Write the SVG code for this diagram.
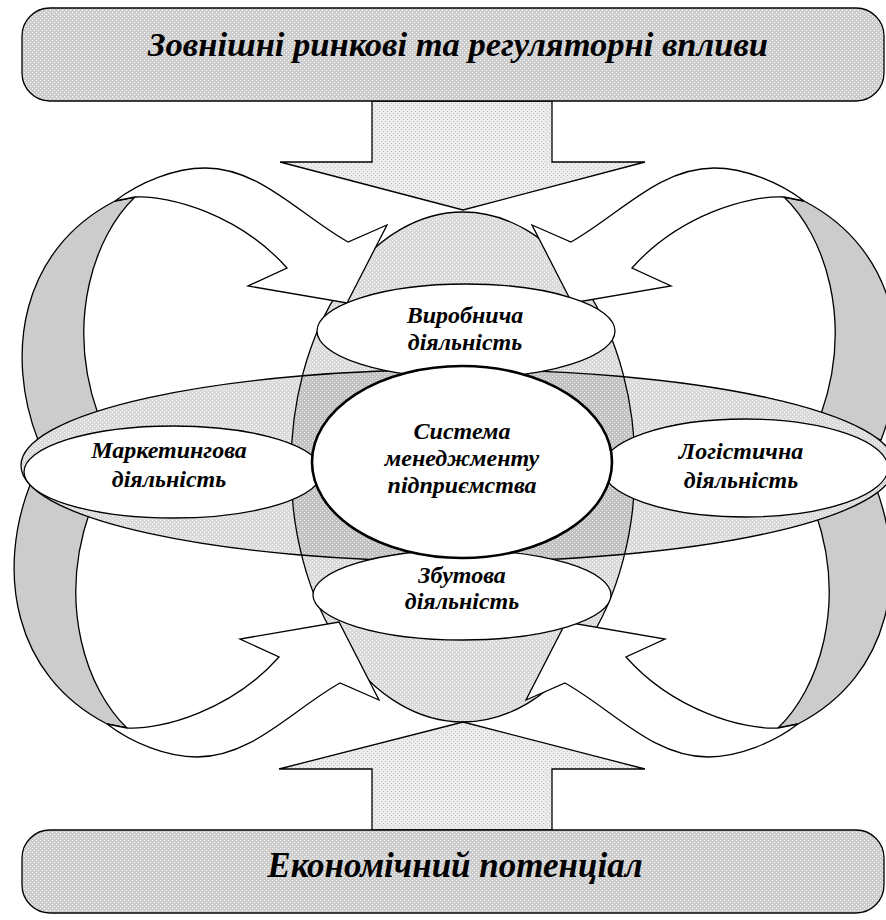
<svg xmlns="http://www.w3.org/2000/svg" width="886" height="920" viewBox="0 0 886 920">
  <defs>
    <!-- dotted fills -->
    <pattern id="pBanner" width="4" height="4" patternUnits="userSpaceOnUse">
      <rect width="4" height="4" fill="#cdcdcd"/>
      <rect x="0" y="0" width="1" height="1" fill="#ffffff"/>
      <rect x="2" y="2" width="1" height="1" fill="#ffffff"/>
    </pattern>
    <pattern id="pArrow" width="4" height="4" patternUnits="userSpaceOnUse">
      <rect width="4" height="4" fill="#ececec"/>
      <rect x="1" y="1" width="1" height="1" fill="#c4c4c4"/>
      <rect x="3" y="3" width="1" height="1" fill="#c4c4c4"/>
    </pattern>
    <pattern id="pLight" width="4" height="4" patternUnits="userSpaceOnUse">
      <rect width="4" height="4" fill="#dadada"/>
      <rect x="0" y="0" width="1" height="1" fill="#ffffff"/>
      <rect x="2" y="2" width="1" height="1" fill="#ffffff"/>
    </pattern>
    <pattern id="pDark" width="4" height="4" patternUnits="userSpaceOnUse">
      <rect width="4" height="4" fill="#c2c2c2"/>
      <rect x="0" y="0" width="1" height="1" fill="#f0f0f0"/>
      <rect x="2" y="2" width="1" height="1" fill="#f0f0f0"/>
    </pattern>
    <clipPath id="clipV"><ellipse cx="463" cy="467" rx="172" ry="255"/></clipPath>
    <clipPath id="clipH"><ellipse cx="458" cy="465.5" rx="437" ry="96"/></clipPath>
    <!-- one bent arrow (upper-left one); the others are mirrored copies -->
    <g id="bentArrow">
      <path class="side" d="M38,440 C5,355 20,250 115,201 L135,197 C95,235 65,320 98,414 Z"/>
      <path class="band" d="M115,201 C140,182 175,168 205,168 C260,168 300,215 348,242 L387,225 L347,303 L248,286 L287,268 C240,215 170,195 135,197 Z"/>
    </g>
  </defs>
  <style>
    .line { stroke: #000; stroke-width: 1.3; stroke-linejoin: miter; }
    .side { fill: #cccccc; stroke: #000; stroke-width: 1.3; }
    .band { fill: #ffffff; stroke: #000; stroke-width: 1.3; stroke-linejoin: miter; }
    .oval { fill: #ffffff; stroke: #000; stroke-width: 1.3; }
    text { font-family: 'Liberation Serif', 'DejaVu Serif', serif; font-style: italic; font-weight: 700; fill: #000; text-anchor: middle; }
    .small { font-size: 24px; }
  </style>

  <rect width="886" height="920" fill="#ffffff"/>

  <!-- large vertical oval behind the activities -->
  <g id="sphere">
    <ellipse cx="463" cy="467" rx="172" ry="255" fill="url(#pLight)" class="line"/>
  </g>

  <!-- arrows -->
  <g id="connectors">
    <path d="M372,101 L552,101 L552,162 L645,162 L463,210 L280,162 L372,162 Z" fill="url(#pArrow)" class="line"/>
    <path d="M372,830 L552,830 L552,769 L645,769 L463,722 L279,769 L372,769 Z" fill="url(#pArrow)" class="line"/>
    <use href="#bentArrow"/>
    <use href="#bentArrow" transform="translate(919,0) scale(-1,1)"/>
    <use href="#bentArrow" transform="translate(-8,925) scale(1,-1)"/>
    <use href="#bentArrow" transform="translate(913,925) scale(-1,-1)"/>
  </g>

  <!-- horizontal oval and its overlap with the vertical one -->
  <g id="ring">
    <ellipse cx="458" cy="465.5" rx="437" ry="96" fill="url(#pLight)"/>
    <ellipse cx="458" cy="465.5" rx="437" ry="96" fill="url(#pDark)" clip-path="url(#clipV)"/>
    <ellipse cx="458" cy="465.5" rx="437" ry="96" fill="none" class="line"/>
    <ellipse cx="463" cy="467" rx="172" ry="255" fill="none" class="line" stroke-width="1" clip-path="url(#clipH)"/>
  </g>

  <g id="top-banner">
    <rect x="22" y="8" width="862" height="93" rx="28" ry="28" fill="url(#pBanner)" class="line"/>
    <text x="458" y="56" font-size="33" textLength="620" lengthAdjust="spacingAndGlyphs">Зовнішні ринкові та регуляторні впливи</text>
  </g>

  <g id="bottom-banner">
    <rect x="22" y="830" width="862" height="83" rx="28" ry="28" fill="url(#pBanner)" class="line"/>
    <text x="455" y="877" font-size="35">Економічний потенціал</text>
  </g>

  <g id="production">
    <ellipse cx="466" cy="331" rx="149" ry="47" class="oval"/>
    <text class="small" x="465" y="323">Виробнича</text>
    <text class="small" x="465" y="350">діяльність</text>
  </g>

  <g id="sales">
    <ellipse cx="462" cy="595" rx="149" ry="45" class="oval"/>
    <text class="small" x="462" y="583">Збутова</text>
    <text class="small" x="462" y="609">діяльність</text>
  </g>

  <g id="marketing">
    <ellipse cx="173" cy="472" rx="149" ry="46" class="oval"/>
    <text class="small" x="169" y="458">Маркетингова</text>
    <text class="small" x="169" y="487">діяльність</text>
  </g>

  <g id="logistics">
    <ellipse cx="745" cy="468" rx="143" ry="49" class="oval"/>
    <text class="small" x="741" y="459">Логістична</text>
    <text class="small" x="741" y="488">діяльність</text>
  </g>

  <g id="management">
    <ellipse cx="462" cy="462" rx="150" ry="96" fill="#ffffff" stroke="#000" stroke-width="2.6"/>
    <text class="small" x="462" y="439">Система</text>
    <text class="small" x="462" y="466">менеджменту</text>
    <text class="small" x="462" y="493">підприємства</text>
  </g>
</svg>
